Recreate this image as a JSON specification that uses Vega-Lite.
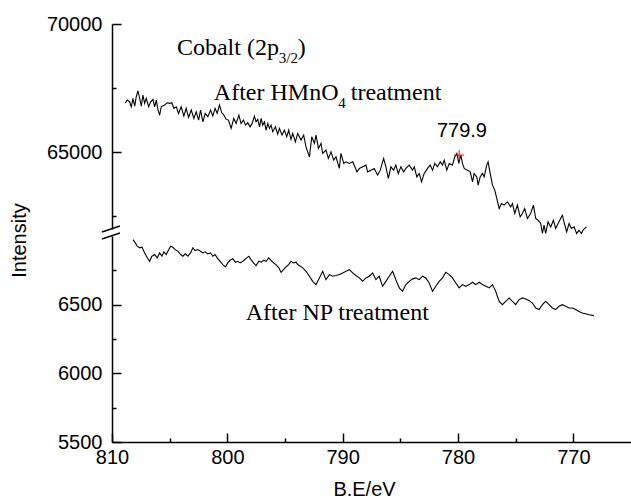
{
  "$schema": "https://vega.github.io/schema/vega-lite/v6.json",
  "padding": {"left": 9, "top": 14, "right": 0, "bottom": 0},
  "spacing": 7,
  "bounds": "flush",
  "datasets": {
    "hmno4": [
      {"x":808.85,"y":66926},{"x":808.68,"y":67031},{"x":808.47,"y":66965},{"x":808.33,"y":66770},{"x":808.18,"y":67098},{"x":808.03,"y":66797},{"x":807.90,"y":67160},{"x":807.75,"y":67395},{"x":807.60,"y":67098},{"x":807.46,"y":66797},{"x":807.32,"y":67227},{"x":807.17,"y":66902},{"x":807.03,"y":67098},{"x":806.82,"y":66770},{"x":806.65,"y":66965},{"x":806.45,"y":67059},{"x":806.30,"y":66770},{"x":806.16,"y":67031},{"x":806.02,"y":66668},{"x":805.87,"y":66445},{"x":805.73,"y":66770},{"x":805.44,"y":66836},{"x":805.21,"y":66926},{"x":805.00,"y":66902},{"x":804.81,"y":66926},{"x":804.63,"y":66707},{"x":804.43,"y":66770},{"x":804.23,"y":66512},{"x":804.00,"y":66770},{"x":803.77,"y":66406},{"x":803.57,"y":66707},{"x":803.36,"y":66355},{"x":803.13,"y":66641},{"x":802.90,"y":66316},{"x":802.70,"y":66574},{"x":802.49,"y":66250},{"x":802.32,"y":66641},{"x":802.12,"y":66184},{"x":801.92,"y":66512},{"x":801.69,"y":66379},{"x":801.45,"y":66641},{"x":801.26,"y":66406},{"x":801.06,"y":66707},{"x":800.88,"y":66512},{"x":800.68,"y":66836},{"x":800.48,"y":66535},{"x":800.30,"y":66445},{"x":800.10,"y":66277},{"x":799.90,"y":66250},{"x":799.67,"y":65926},{"x":799.44,"y":66316},{"x":799.24,"y":66121},{"x":799.00,"y":66445},{"x":798.81,"y":66121},{"x":798.60,"y":66250},{"x":798.42,"y":66055},{"x":798.23,"y":66145},{"x":798.03,"y":65988},{"x":797.85,"y":66121},{"x":797.65,"y":66406},{"x":797.51,"y":66184},{"x":797.36,"y":66277},{"x":797.21,"y":65988},{"x":797.07,"y":66316},{"x":796.93,"y":66055},{"x":796.78,"y":66184},{"x":796.64,"y":65859},{"x":796.49,"y":66121},{"x":796.35,"y":65926},{"x":796.21,"y":66055},{"x":796.06,"y":65793},{"x":795.83,"y":65988},{"x":795.63,"y":65703},{"x":795.48,"y":65926},{"x":795.26,"y":65664},{"x":795.05,"y":65859},{"x":794.85,"y":65598},{"x":794.68,"y":65859},{"x":794.48,"y":65496},{"x":794.33,"y":65730},{"x":794.10,"y":65402},{"x":793.90,"y":65730},{"x":793.61,"y":65469},{"x":793.38,"y":65664},{"x":793.18,"y":65207},{"x":792.88,"y":64816},{"x":792.68,"y":65598},{"x":792.45,"y":65340},{"x":792.31,"y":65664},{"x":792.10,"y":65145},{"x":791.88,"y":65340},{"x":791.73,"y":64949},{"x":791.45,"y":65078},{"x":791.24,"y":64754},{"x":791.01,"y":65012},{"x":790.78,"y":64687},{"x":790.58,"y":64816},{"x":790.29,"y":64363},{"x":790.15,"y":64949},{"x":789.91,"y":64559},{"x":789.71,"y":64621},{"x":789.42,"y":64559},{"x":789.13,"y":64621},{"x":788.94,"y":64426},{"x":788.76,"y":64230},{"x":788.55,"y":64363},{"x":788.27,"y":64426},{"x":787.98,"y":64492},{"x":787.84,"y":64230},{"x":787.55,"y":64297},{"x":787.26,"y":64363},{"x":786.97,"y":64102},{"x":786.74,"y":64297},{"x":786.45,"y":64754},{"x":786.25,"y":64426},{"x":786.04,"y":63973},{"x":785.82,"y":64426},{"x":785.58,"y":64297},{"x":785.39,"y":64492},{"x":785.18,"y":64168},{"x":784.95,"y":64426},{"x":784.72,"y":64230},{"x":784.52,"y":64363},{"x":784.23,"y":64492},{"x":783.94,"y":64297},{"x":783.79,"y":64426},{"x":783.57,"y":64035},{"x":783.36,"y":64168},{"x":783.16,"y":63840},{"x":782.93,"y":64168},{"x":782.64,"y":64363},{"x":782.41,"y":64492},{"x":782.21,"y":64297},{"x":782.01,"y":64559},{"x":781.78,"y":64426},{"x":781.54,"y":64621},{"x":781.34,"y":64492},{"x":781.20,"y":64687},{"x":780.97,"y":64297},{"x":780.76,"y":64559},{"x":780.48,"y":64492},{"x":780.28,"y":64816},{"x":780.10,"y":64949},{"x":779.93,"y":64559},{"x":779.76,"y":64883},{"x":779.61,"y":64559},{"x":779.46,"y":64363},{"x":779.18,"y":64297},{"x":778.94,"y":64230},{"x":778.74,"y":63840},{"x":778.60,"y":64168},{"x":778.37,"y":64035},{"x":778.25,"y":63711},{"x":778.08,"y":64035},{"x":777.88,"y":64168},{"x":777.73,"y":64035},{"x":777.51,"y":64492},{"x":777.39,"y":64621},{"x":777.21,"y":64168},{"x":777.01,"y":63711},{"x":776.81,"y":63516},{"x":776.64,"y":63191},{"x":776.43,"y":62801},{"x":776.23,"y":62996},{"x":776.00,"y":62930},{"x":775.71,"y":63059},{"x":775.43,"y":62863},{"x":775.28,"y":62996},{"x":775.08,"y":62605},{"x":774.85,"y":62930},{"x":774.61,"y":62473},{"x":774.42,"y":62605},{"x":774.22,"y":62801},{"x":773.98,"y":62410},{"x":773.70,"y":62605},{"x":773.46,"y":62930},{"x":773.26,"y":62410},{"x":773.06,"y":62344},{"x":772.83,"y":62215},{"x":772.68,"y":61824},{"x":772.54,"y":62148},{"x":772.40,"y":61824},{"x":772.19,"y":62277},{"x":771.96,"y":62082},{"x":771.73,"y":62344},{"x":771.53,"y":62020},{"x":771.32,"y":62215},{"x":771.10,"y":62410},{"x":770.95,"y":62539},{"x":770.81,"y":62277},{"x":770.58,"y":61887},{"x":770.37,"y":62215},{"x":770.17,"y":62020},{"x":769.94,"y":62082},{"x":769.71,"y":61824},{"x":769.51,"y":61953},{"x":769.31,"y":61824},{"x":769.13,"y":61980},{"x":768.85,"y":62082}
    ],
    "np": [
      {"x":808.18,"y":6974},{"x":807.98,"y":6950},{"x":807.81,"y":6926},{"x":807.60,"y":6914},{"x":807.40,"y":6918},{"x":807.17,"y":6877},{"x":806.94,"y":6841},{"x":806.74,"y":6816},{"x":806.54,"y":6853},{"x":806.30,"y":6865},{"x":806.08,"y":6841},{"x":805.87,"y":6877},{"x":805.67,"y":6853},{"x":805.50,"y":6885},{"x":805.30,"y":6865},{"x":805.15,"y":6889},{"x":804.92,"y":6926},{"x":804.72,"y":6918},{"x":804.52,"y":6901},{"x":804.29,"y":6889},{"x":804.05,"y":6865},{"x":803.85,"y":6853},{"x":803.65,"y":6870},{"x":803.42,"y":6853},{"x":803.19,"y":6877},{"x":802.99,"y":6914},{"x":802.79,"y":6894},{"x":802.55,"y":6901},{"x":802.32,"y":6889},{"x":802.12,"y":6877},{"x":801.92,"y":6885},{"x":801.69,"y":6870},{"x":801.45,"y":6877},{"x":801.26,"y":6853},{"x":801.06,"y":6865},{"x":800.88,"y":6841},{"x":800.39,"y":6792},{"x":800.16,"y":6775},{"x":799.96,"y":6804},{"x":799.76,"y":6823},{"x":799.52,"y":6834},{"x":799.29,"y":6809},{"x":799.09,"y":6816},{"x":798.89,"y":6804},{"x":798.66,"y":6816},{"x":798.42,"y":6834},{"x":798.14,"y":6853},{"x":797.94,"y":6828},{"x":797.73,"y":6804},{"x":797.51,"y":6785},{"x":797.27,"y":6816},{"x":797.07,"y":6809},{"x":796.87,"y":6823},{"x":796.64,"y":6816},{"x":796.41,"y":6841},{"x":796.21,"y":6823},{"x":796.00,"y":6804},{"x":795.78,"y":6792},{"x":795.54,"y":6768},{"x":795.34,"y":6736},{"x":795.13,"y":6755},{"x":794.91,"y":6775},{"x":794.68,"y":6792},{"x":794.48,"y":6816},{"x":794.27,"y":6804},{"x":794.04,"y":6809},{"x":793.90,"y":6792},{"x":793.46,"y":6768},{"x":793.18,"y":6743},{"x":792.88,"y":6707},{"x":792.60,"y":6670},{"x":792.31,"y":6646},{"x":792.02,"y":6695},{"x":791.73,"y":6743},{"x":791.45,"y":6682},{"x":791.15,"y":6719},{"x":790.87,"y":6707},{"x":790.58,"y":6712},{"x":790.29,"y":6719},{"x":790.00,"y":6731},{"x":789.71,"y":6743},{"x":789.42,"y":6755},{"x":789.13,"y":6731},{"x":788.85,"y":6712},{"x":788.55,"y":6695},{"x":788.27,"y":6670},{"x":787.98,"y":6695},{"x":787.69,"y":6707},{"x":787.40,"y":6731},{"x":787.12,"y":6682},{"x":786.83,"y":6707},{"x":786.54,"y":6634},{"x":786.25,"y":6670},{"x":785.96,"y":6707},{"x":785.67,"y":6743},{"x":785.39,"y":6682},{"x":785.09,"y":6622},{"x":784.81,"y":6597},{"x":784.52,"y":6646},{"x":784.23,"y":6670},{"x":783.94,"y":6688},{"x":783.65,"y":6695},{"x":783.36,"y":6682},{"x":783.07,"y":6707},{"x":782.79,"y":6695},{"x":782.50,"y":6658},{"x":782.21,"y":6597},{"x":781.92,"y":6634},{"x":781.63,"y":6670},{"x":781.34,"y":6695},{"x":781.06,"y":6736},{"x":780.76,"y":6719},{"x":780.48,"y":6695},{"x":780.19,"y":6658},{"x":779.90,"y":6622},{"x":779.61,"y":6646},{"x":779.32,"y":6634},{"x":779.03,"y":6646},{"x":778.74,"y":6663},{"x":778.46,"y":6646},{"x":778.16,"y":6663},{"x":777.88,"y":6646},{"x":777.59,"y":6634},{"x":777.30,"y":6622},{"x":777.01,"y":6646},{"x":776.73,"y":6597},{"x":776.43,"y":6524},{"x":776.15,"y":6500},{"x":775.86,"y":6524},{"x":775.57,"y":6549},{"x":775.28,"y":6524},{"x":775.00,"y":6500},{"x":774.70,"y":6537},{"x":774.42,"y":6549},{"x":774.13,"y":6542},{"x":773.84,"y":6531},{"x":773.55,"y":6512},{"x":773.26,"y":6476},{"x":772.97,"y":6464},{"x":772.68,"y":6500},{"x":772.40,"y":6524},{"x":772.10,"y":6500},{"x":771.82,"y":6476},{"x":771.53,"y":6464},{"x":771.24,"y":6488},{"x":770.95,"y":6500},{"x":770.67,"y":6488},{"x":770.37,"y":6476},{"x":770.09,"y":6476},{"x":769.80,"y":6464},{"x":769.51,"y":6451},{"x":769.22,"y":6439},{"x":768.94,"y":6434},{"x":768.64,"y":6427},{"x":768.21,"y":6420}
    ],
    "topText": [
      {"x": 804.37, "y": 68789, "label": "Cobalt (2p"},
      {"x": 793.9, "y": 68789, "label": ")"},
      {"x": 801.17, "y": 67031, "label": "After HMnO"},
      {"x": 789.3, "y": 67031, "label": "treatment"}
    ],
    "topSub": [
      {"x": 795.54, "y": 68477, "label": "3/2"},
      {"x": 790.38, "y": 66719, "label": "4"}
    ],
    "peak": [{"x": 779.9, "y": 64883, "label": "779.9"}],
    "peakLabel": [{"x": 779.66, "y": 65586, "label": "779.9"}],
    "npText": [{"x": 798.4, "y": 6391, "label": "After NP treatment"}],
    "breakMarks": [
      {"x": 810.87, "x2": 809.31, "y": 7029, "y2": 7073},
      {"x": 810.87, "x2": 809.31, "y": 6978, "y2": 7022}
    ]
  },
  "vconcat": [
    {
      "width": 519,
      "height": 205,
      "encoding": {
        "x": {"field": "x", "type": "quantitative", "scale": {"domain": [765, 810], "reverse": true, "nice": false, "zero": false}, "axis": null},
        "y": {"field": "y", "type": "quantitative", "scale": {"domain": [62000, 70000], "nice": false, "zero": false},
          "axis": {
            "title": "Intensity",
            "values": [62500, 65000, 67500, 70000],
            "format": "d",
            "labelExpr": "datum.value % 5000 == 0 ? datum.label : ''",
            "tickSize": {"condition": {"test": "datum.value % 5000 == 0", "value": -9}, "value": -4},
            "labelPadding": 19,
            "titleX": -87,
            "titleY": 216,
            "titleAngle": 270,
            "titleBaseline": "alphabetic",
            "titleAlign": "center"
          }
        }
      },
      "layer": [
        {"data": {"name": "hmno4"}, "mark": {"type": "line", "color": "black", "strokeWidth": 1.1}, "encoding": {}},
        {"data": {"name": "peak"}, "mark": {"type": "point", "shape": "M-1,0H1M0,-1V1", "size": 100, "filled": false, "stroke": "red", "strokeWidth": 1, "opacity": 1}, "encoding": {}},
        {"data": {"name": "topText"}, "mark": {"type": "text", "align": "left", "baseline": "alphabetic", "font": "Liberation Serif", "fontSize": 24, "color": "black"}, "encoding": {"text": {"field": "label"}}},
        {"data": {"name": "topSub"}, "mark": {"type": "text", "align": "left", "baseline": "alphabetic", "font": "Liberation Serif", "fontSize": 15, "color": "black"}, "encoding": {"text": {"field": "label"}}},
        {"data": {"name": "peakLabel"}, "mark": {"type": "text", "align": "center", "baseline": "alphabetic", "font": "Liberation Sans", "fontSize": 20, "color": "black"}, "encoding": {"text": {"field": "label"}}}
      ]
    },
    {
      "width": 519,
      "height": 206,
      "encoding": {
        "x": {"field": "x", "type": "quantitative", "scale": {"domain": [765, 810], "reverse": true, "nice": false, "zero": false},
          "axis": {
            "title": "B.E/eV",
            "values": [770, 775, 780, 785, 790, 795, 800, 805, 810],
            "format": "d",
            "labelExpr": "datum.value % 10 == 0 ? datum.label : ''",
            "tickSize": {"condition": {"test": "datum.value % 10 == 0", "value": -9}, "value": -4},
            "labelPadding": 14,
            "titleX": 252,
            "titleY": 53,
            "titleBaseline": "alphabetic"
          }
        },
        "y": {"field": "y", "type": "quantitative", "scale": {"domain": [5500, 7000], "nice": false, "zero": false},
          "axis": {
            "title": null,
            "values": [5500, 5750, 6000, 6250, 6500, 6750],
            "format": "d",
            "labelExpr": "datum.value % 500 == 0 ? datum.label : ''",
            "tickSize": {"condition": {"test": "datum.value % 500 == 0", "value": -9}, "value": -4},
            "labelPadding": 19
          }
        }
      },
      "layer": [
        {"data": {"name": "np"}, "mark": {"type": "line", "color": "black", "strokeWidth": 1.1}, "encoding": {}},
        {"data": {"name": "npText"}, "mark": {"type": "text", "align": "left", "baseline": "alphabetic", "font": "Liberation Serif", "fontSize": 24, "color": "black"}, "encoding": {"text": {"field": "label"}}},
        {"data": {"name": "breakMarks"}, "mark": {"type": "rule", "color": "black", "strokeWidth": 1.5}, "encoding": {"x2": {"field": "x2"}, "y2": {"field": "y2"}}}
      ]
    }
  ],
  "config": {
    "view": {"stroke": null},
    "axis": {
      "grid": false,
      "domainColor": "black",
      "domainWidth": 1.5,
      "tickColor": "black",
      "tickWidth": 1.5,
      "labelFont": "Liberation Sans",
      "labelFontSize": 20,
      "labelColor": "black",
      "labelFlush": false,
      "labelOverlap": false,
      "titleFont": "Liberation Sans",
      "titleFontSize": 20,
      "titleFontWeight": "normal",
      "titleColor": "black"
    }
  }
}
